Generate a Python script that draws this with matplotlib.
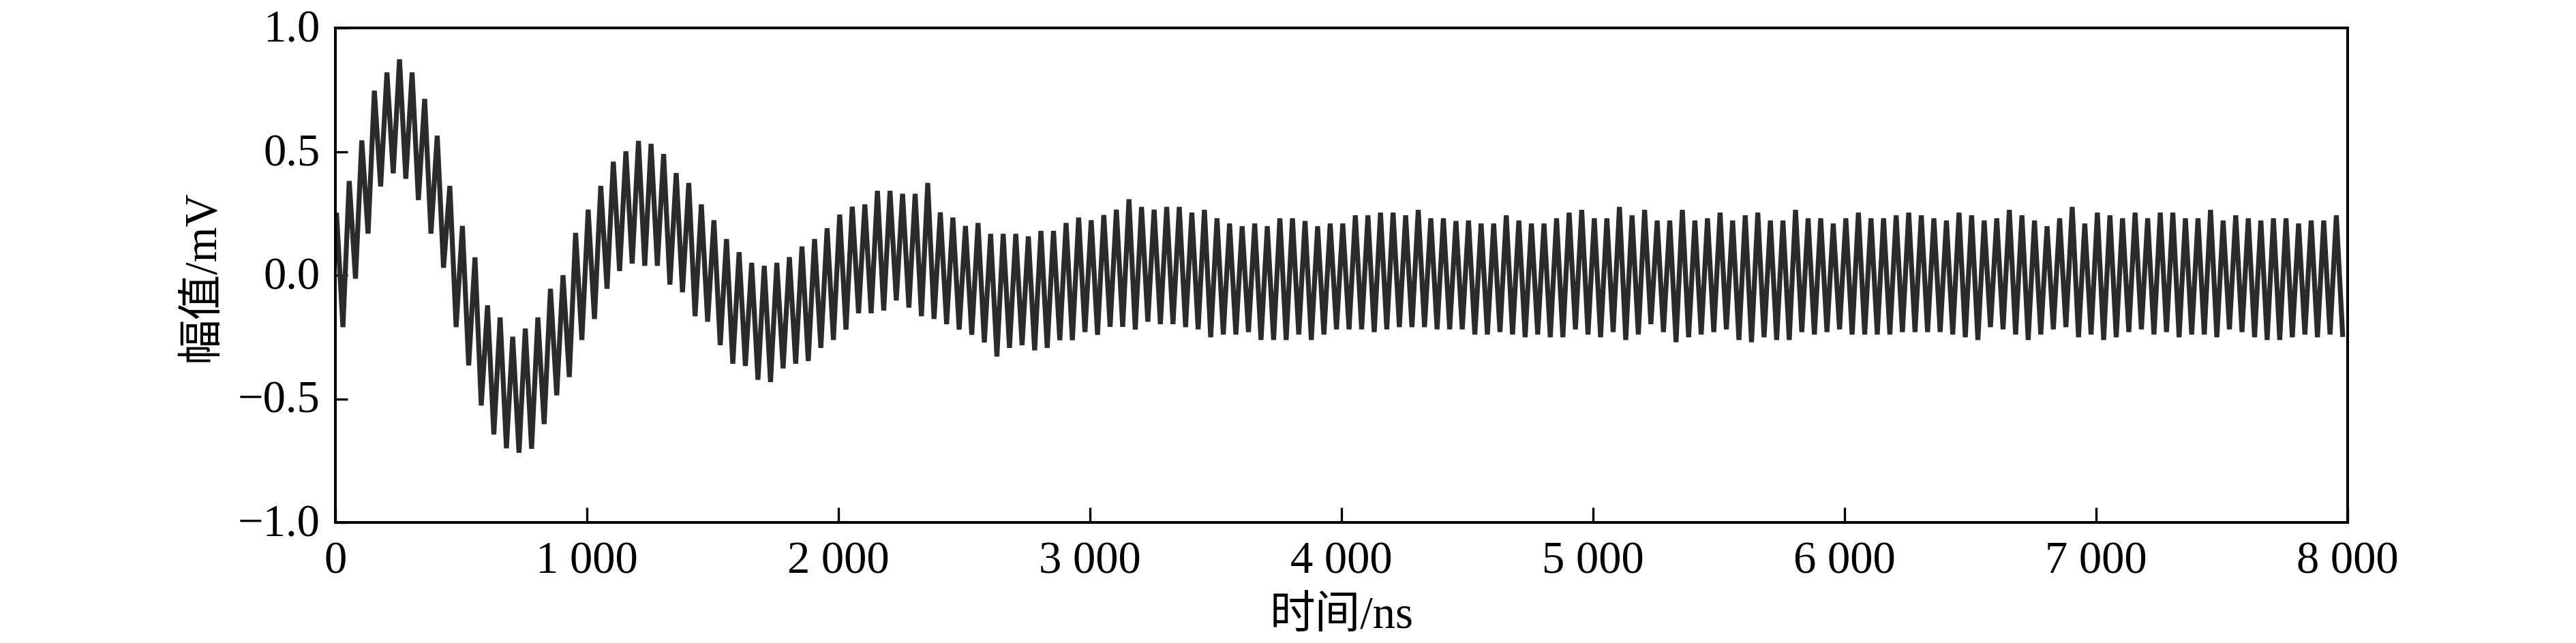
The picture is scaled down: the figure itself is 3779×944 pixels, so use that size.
import numpy as np
import matplotlib
matplotlib.use('Agg')
import matplotlib.pyplot as plt
from matplotlib.transforms import ScaledTranslation

plt.rcParams['font.family'] = ['Liberation Serif', 'Noto Sans CJK SC', 'DejaVu Sans']

# crest and trough of every 50 ns cycle (mV)
peaks_a = [0.243, 0.381, 0.545, 0.746, 0.820, 0.873, 0.820, 0.713, 0.564, 0.361,
           0.199, 0.072, -0.122, -0.171, -0.249, -0.216, -0.171, -0.055, 0.000, 0.171,
           0.265, 0.361, 0.459]
peaks_b = [0.501, 0.543, 0.531, 0.490, 0.413, 0.373, 0.286, 0.222, 0.146, 0.093,
           0.050, 0.038, 0.050, 0.073, 0.116, 0.146, 0.190, 0.245, 0.277, 0.286,
           0.341, 0.341]
peaks_c = [0.329, 0.329, 0.373, 0.254, 0.233, 0.199, 0.211, 0.167, 0.167, 0.167,
           0.157, 0.179, 0.179, 0.211, 0.233, 0.222, 0.243, 0.265, 0.307, 0.276,
           0.265, 0.276, 0.276]
peaks_d = [0.253, 0.264, 0.230, 0.209, 0.198, 0.209, 0.198, 0.230, 0.230, 0.219,
           0.198, 0.209, 0.209, 0.242, 0.242, 0.253, 0.253, 0.242, 0.264, 0.230,
           0.230, 0.219]
peaks_e = [0.221, 0.209, 0.209, 0.242, 0.221, 0.209, 0.209, 0.230, 0.253, 0.264,
           0.230, 0.230, 0.276, 0.242, 0.264, 0.221, 0.221, 0.264, 0.221, 0.230,
           0.253, 0.221]
peaks_f = [0.242, 0.253, 0.221, 0.221, 0.264, 0.230, 0.230, 0.209, 0.230, 0.253,
           0.230, 0.230, 0.242, 0.253, 0.242, 0.230, 0.221, 0.253, 0.242, 0.221,
           0.230, 0.264, 0.242, 0.221]
peaks_g = [0.198, 0.230, 0.276, 0.209, 0.253, 0.242, 0.230, 0.253, 0.230, 0.253,
           0.253, 0.230, 0.230, 0.264, 0.221, 0.242, 0.230, 0.221, 0.230, 0.230,
           0.209, 0.221, 0.221, 0.242]

troughs_a = [-0.210, -0.014, 0.168, 0.359, 0.412, 0.390, 0.304, 0.168, 0.030, -0.210,
             -0.365, -0.527, -0.644, -0.700, -0.718, -0.702, -0.602, -0.486, -0.412, -0.262,
             -0.177, -0.055, 0.017]
troughs_b = [0.047, 0.038, 0.038, -0.038, -0.069, -0.166, -0.188, -0.283, -0.358, -0.367,
             -0.423, -0.432, -0.377, -0.358, -0.347, -0.294, -0.262, -0.220, -0.154, -0.154,
             -0.143, -0.102]
troughs_c = [-0.131, -0.166, -0.177, -0.198, -0.220, -0.241, -0.272, -0.329, -0.294, -0.283,
             -0.304, -0.294, -0.263, -0.263, -0.230, -0.241, -0.209, -0.209, -0.220, -0.188,
             -0.198, -0.198, -0.210]
troughs_d = [-0.219, -0.251, -0.240, -0.240, -0.230, -0.262, -0.262, -0.262, -0.240, -0.262,
             -0.240, -0.219, -0.219, -0.219, -0.230, -0.219, -0.210, -0.210, -0.210, -0.219,
             -0.219, -0.219]
troughs_e = [-0.240, -0.240, -0.230, -0.240, -0.251, -0.240, -0.251, -0.251, -0.219, -0.240,
             -0.251, -0.230, -0.262, -0.240, -0.198, -0.230, -0.271, -0.251, -0.240, -0.230,
             -0.219, -0.262]
troughs_f = [-0.271, -0.251, -0.262, -0.262, -0.230, -0.240, -0.230, -0.219, -0.240, -0.240,
             -0.240, -0.240, -0.230, -0.230, -0.230, -0.230, -0.240, -0.251, -0.262, -0.210,
             -0.219, -0.240, -0.262, -0.240]
troughs_g = [-0.219, -0.210, -0.251, -0.240, -0.262, -0.251, -0.230, -0.219, -0.240, -0.230,
             -0.251, -0.240, -0.240, -0.251, -0.219, -0.230, -0.251, -0.262, -0.262, -0.251,
             -0.240, -0.251, -0.240, -0.240]

x_ticks = [0, 1000, 2000, 3000, 4000, 5000, 6000, 7000, 8000]
x_labels = ['0', '1 000', '2 000', '3 000', '4 000', '5 000', '6 000', '7 000', '8 000']
y_ticks = [-1.0, -0.5, 0.0, 0.5, 1.0]
y_labels = ['\u22121.0', '\u22120.5', '0.0', '0.5', '1.0']

peaks = np.array(peaks_a + peaks_b + peaks_c + peaks_d + peaks_e + peaks_f + peaks_g)
troughs = np.array(troughs_a + troughs_b + troughs_c + troughs_d + troughs_e + troughs_f + troughs_g)

t = np.arange(len(peaks) * 2) * 25 + 5
amp = np.empty(len(peaks) * 2)
amp[0::2] = peaks
amp[1::2] = troughs

fig = plt.figure(figsize=(37.8, 9.45), dpi=100)
ax = fig.add_axes([492 / 3780, 1 - 768 / 945, (3444 - 492) / 3780, (768 - 42) / 945])

ax.plot(t, amp, color='#2b2b2b', lw=5.2, solid_joinstyle='bevel')

ax.set_xlim(0, 8000)
ax.set_ylim(-1, 1)
ax.set_xticks(x_ticks, x_labels)
ax.set_yticks(y_ticks, y_labels)
ax.tick_params(axis='x', direction='in', length=16, width=2.4, labelsize=48, pad=19)
ax.tick_params(axis='y', direction='in', length=13, width=2.4, labelsize=48, pad=16)
for s in ax.spines.values():
    s.set_linewidth(2.9)

# y labels sit a little above their ticks in the original
shift = ScaledTranslation(0, 4 / 100, fig.dpi_scale_trans)
for lab in ax.get_yticklabels():
    lab.set_transform(lab.get_transform() + shift)

ax.set_xlabel('时间/ns', fontsize=48, labelpad=14)
ax.set_ylabel('幅值/mV', fontsize=48, labelpad=15)

fig.savefig('out.png', dpi=100)
